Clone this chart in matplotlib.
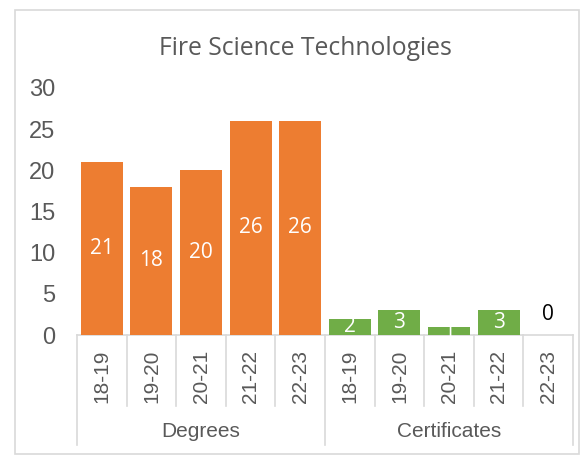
import matplotlib.pyplot as plt
import matplotlib.transforms as mtrans
from matplotlib.patches import Rectangle

title = 'Fire Science Technologies'
groups = ['Degrees', 'Certificates']
years = ['18-19', '19-20', '20-21', '21-22', '22-23']
degrees = [21, 18, 20, 26, 26]
certificates = [2, 3, 1, 3, 0]
colors = {'Degrees': '#ED7D31', 'Certificates': '#70AD47'}

grey = '#595959'
line_grey = '#D9D9D9'
W, H = 580, 457

fig = plt.figure(figsize=(W / 100, H / 100), dpi=100)
# chart frame
fig.patches.append(Rectangle((15 / W, 3 / H), 564 / W, 444 / H,
                             transform=fig.transFigure, fill=False,
                             edgecolor=line_grey, linewidth=1.2))

ax = fig.add_axes([77 / W, 122 / H, 496 / W, 247 / H])
fig.text(305 / W, 1 - 55 / H, title, ha='center', va='baseline',
         fontsize=17.8, color=grey, family='Open Sans')

vals = degrees + certificates
labels = years + years
cols = [colors['Degrees']] * len(degrees) + [colors['Certificates']] * len(certificates)
x = list(range(len(vals)))
ax.bar(x, vals, width=0.85, color=cols, zorder=2)

for xi, v in zip(x, vals):
    if v > 0:
        ax.text(xi, v / 2, str(v), ha='center', va='center', color='white',
                fontsize=15, family='Open Sans', zorder=3)
    else:
        ax.text(xi, v + 2.5, str(v), ha='center', va='center', color='black',
                fontsize=15, family='Open Sans', zorder=3)

ax.set_ylim(0, 30)
ax.set_xlim(-0.5, len(vals) - 0.5)
ax.set_yticks(range(0, 31, 5))
ax.tick_params(axis='y', length=0, labelsize=17, labelcolor=grey, pad=15.5)
for t in ax.get_yticklabels():
    t.set_family('Liberation Sans')
ax.set_xticks(x)
ax.set_xticklabels(labels, rotation=90, fontsize=15, color=grey,
                   family='Liberation Sans')
ax.tick_params(axis='x', length=0, pad=10.5)
for s in ax.spines.values():
    s.set_visible(False)

# category axis lines below the plot
tr = mtrans.blended_transform_factory(ax.transData, ax.transAxes)
ax.plot([-0.5, len(vals) - 0.5], [0, 0], color=line_grey, lw=1.2,
        transform=tr, clip_on=False, zorder=1)
for b in range(len(vals) + 1):
    edge = b - 0.5
    bottom = -0.445 if b % len(years) == 0 else -0.288
    ax.plot([edge, edge], [0, bottom], color=line_grey, lw=1.2,
            transform=tr, clip_on=False)
for i, g in enumerate(groups):
    mid = i * len(years) + (len(years) - 1) / 2
    ax.text(mid, -0.389, g, ha='center', va='center', transform=tr,
            fontsize=15, color=grey, family='Liberation Sans')

fig.savefig('out.png', dpi=100)
